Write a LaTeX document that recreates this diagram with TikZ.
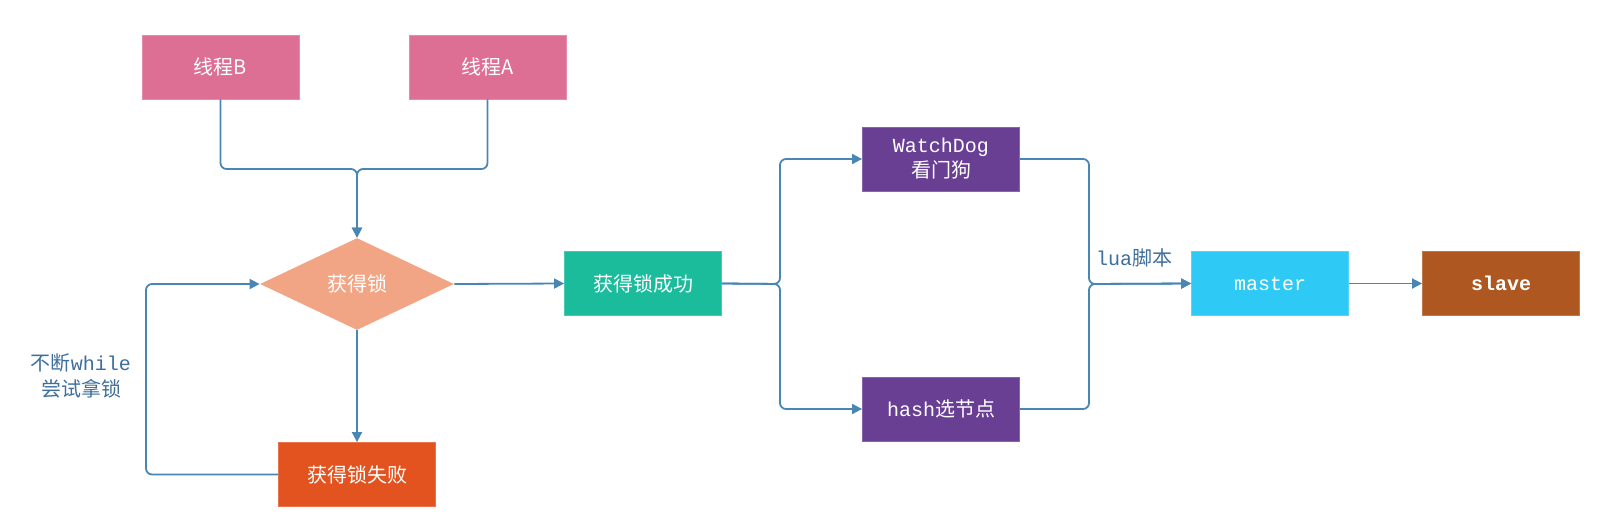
\documentclass[tikz,border=0pt]{standalone}
\usepackage{fontspec}
\setmainfont{Noto Sans CJK SC}
\setmonofont{Liberation Mono}
\usetikzlibrary{shapes.geometric,arrows.meta}

\definecolor{thr}{HTML}{DE6F94}
\definecolor{dec}{HTML}{F2A584}
\definecolor{okc}{HTML}{1ABC9C}
\definecolor{bad}{HTML}{E2531F}
\definecolor{wdg}{HTML}{693F94}
\definecolor{mst}{HTML}{2FC9F5}
\definecolor{slv}{HTML}{AE5720}
\definecolor{lnk}{HTML}{4A86B3}
\definecolor{lbl}{HTML}{3D6E9C}

\tikzset{
  box/.style={rectangle, fill=#1, draw=#1!80!white, minimum width=78.5pt,
    minimum height=32pt, inner sep=0pt, text=white, align=center,
    font=\fontsize{10}{12.5}\selectfont},
  flow/.style={draw=lnk, line width=0.9pt, rounded corners=3pt},
  arr/.style={flow, -{Triangle[length=5pt,width=5pt]}},
  note/.style={text=lbl, align=center, font=\fontsize{10}{13}\selectfont}
}

\begin{document}
\begin{tikzpicture}[x=0.5pt, y=-0.5pt]
      \useasboundingbox (0,0) rectangle (1603,531);

      % Boxes (left)
      \node[box=thr] (thrB) at (220.5,67) {线程B};
      \node[box=thr] (thrA) at (487.5,67) {线程A};
      \node[diamond, fill=dec, minimum width=97pt, minimum height=46pt,
        inner sep=0pt, text=white, font=\fontsize{10}{12}\selectfont]
        (lock) at (357,284) {获得锁};
      \node[box=bad] (fail) at (357,474.5) {获得锁失败};
      \node[note] (retry) at (81,376) {不断\texttt{while}\\尝试拿锁};

      % Boxes (right)
      \node[box=okc] (succ) at (643,283.5) {获得锁成功};
      \node[box=wdg] (wdog) at (941,159) {\texttt{WatchDog}\\看门狗};
      \node[box=wdg] (hash) at (941,409) {\texttt{hash}选节点};
      \node[box=mst] (master) at (1270,283.5) {\texttt{master}};
      \node[box=slv] (slave) at (1501,283.5) {\texttt{\bfseries slave}};
      \node[note] (lua) at (1134,258) {\texttt{lua}脚本};

      \coordinate (join) at (357,169);
      \coordinate (loop) at (146,284);
      \coordinate (split) at (780,284);
      \coordinate (merge) at (1089,284);

      % Arcs (left)
      \draw[arr] (thrB.south) |- (join) -- (lock.north);
      \draw[arr] (thrA.south) |- (join) -- (lock.north);
      \draw[arr] (lock.south) -- (fail.north);
      \draw[arr] (fail.west) -| (loop) -- (lock.west);
      \draw[arr] (lock.east) -- (succ.west);

      % Arcs (right)
      \draw[arr] (succ.east) -- (split) |- (wdog.west);
      \draw[arr] (succ.east) -- (split) |- (hash.west);
      \draw[arr] (wdog.east) -| (merge) -- (master.west);
      \draw[arr] (hash.east) -| (merge) -- (master.west);
      \draw[arr] (master.east) -- (slave.west);
    \end{tikzpicture}
\end{document}
